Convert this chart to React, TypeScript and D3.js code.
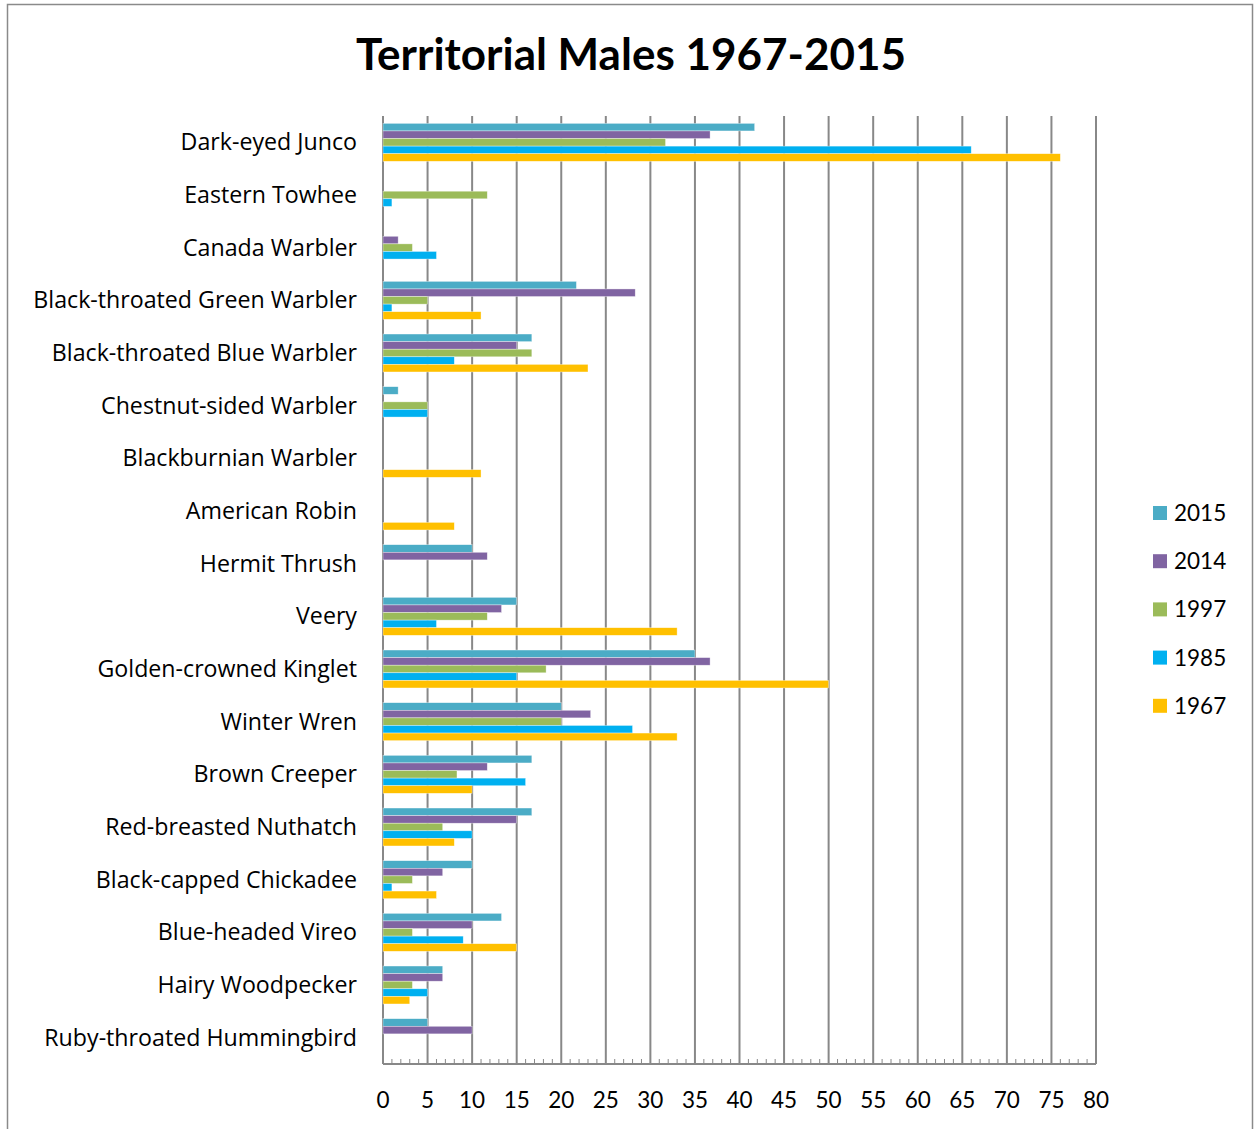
import React from "react";
import * as d3 from "d3";

const categories = [
  "Dark-eyed Junco",
  "Eastern Towhee",
  "Canada Warbler",
  "Black-throated Green Warbler",
  "Black-throated Blue Warbler",
  "Chestnut-sided Warbler",
  "Blackburnian Warbler",
  "American Robin",
  "Hermit Thrush",
  "Veery",
  "Golden-crowned Kinglet",
  "Winter Wren",
  "Brown Creeper",
  "Red-breasted Nuthatch",
  "Black-capped Chickadee",
  "Blue-headed Vireo",
  "Hairy Woodpecker",
  "Ruby-throated Hummingbird",
];

const seriesNames = ["2015", "2014", "1997", "1985", "1967"];
const seriesColors = ["#4BACC6", "#8064A2", "#9BBB59", "#00B0F0", "#FFC000"];

const v2015 = [41.7, 0, 0, 21.7, 16.7, 1.7, 0, 0, 10, 15, 35, 20, 16.7, 16.7, 10, 13.3, 6.7, 5];
const v2014 = [36.7, 0, 1.7, 28.3, 15, 0, 0, 0, 11.7, 13.3, 36.7, 23.3, 11.7, 15, 6.7, 10, 6.7, 10];
const v1997 = [31.7, 11.7, 3.3, 5, 16.7, 5, 0, 0, 0, 11.7, 18.3, 20, 8.3, 6.7, 3.3, 3.3, 3.3, 0];
const v1985 = [66, 1, 6, 1, 8, 5, 0, 0, 0, 6, 15, 28, 16, 10, 1, 9, 5, 0];
const v1967 = [76, 0, 0, 11, 23, 0, 11, 8, 0, 33, 50, 33, 10, 8, 6, 15, 3, 0];

const seriesValues = [v2015, v2014, v1997, v1985, v1967];
const xTicks = d3.range(0, 81, 5);
const xMinor = d3.range(0, 81, 1).filter((d) => d % 5 !== 0);

const title = "Territorial Males 1967-2015";

export default function App() {
  const W = 1255;
  const H = 1129;
  const left = 383;
  const right = 1096;
  const top = 116;
  const bottom = 1064;
  const font = "Lato, 'Open Sans', sans-serif";
  const catFont = "'Open Sans', Lato, sans-serif";

  const x = d3.scaleLinear().domain([0, 80]).range([left, right]);
  const y = d3.scaleBand<string>().domain(categories).range([top, bottom]).padding(0);
  const ys = d3
    .scaleBand<string>()
    .domain(seriesNames)
    .range([0, y.step()])
    .paddingInner(0)
    .paddingOuter(0.97);

  const grid = "#888888";

  return (
    <svg
      width={W}
      height={H}
      style={{ position: "absolute", left: 0, top: 0, background: "#fff" }}
      fontFamily={font}
    >
      <rect x={0} y={0} width={W} height={H} fill="#fff" />
      {/* chart border */}
      <rect x={7.5} y={4.5} width={1245} height={1140} fill="none" stroke="#8a8a8a" strokeWidth={1.5} />

      <text x={631} y={70} textAnchor="middle" fontSize={44} fontWeight={700} fill="#000">
        {title}
      </text>

      {/* gridlines */}
      {xTicks.map((t) => (
        <line key={"g" + t} x1={x(t)} x2={x(t)} y1={top} y2={bottom} stroke={grid} strokeWidth={2} />
      ))}

      {/* bars */}
      {seriesNames.map((s, si) => (
        <g key={s}>
          {categories.map((c, ci) => {
            const v = seriesValues[si][ci];
            if (!v) return null;
            const by = (y(c) as number) + (ys(s) as number);
            return (
              <rect
                key={c}
                x={x(0)}
                y={by}
                width={x(v) - x(0)}
                height={ys.bandwidth()}
                fill={seriesColors[si]}
                stroke="#ffffff"
                strokeOpacity={0.6}
                strokeWidth={0.6}
              />
            );
          })}
        </g>
      ))}

      {/* axis line and ticks */}
      <line x1={left} x2={right} y1={bottom} y2={bottom} stroke={grid} strokeWidth={2} />
      {xMinor.map((t) => (
        <line key={"m" + t} x1={x(t)} x2={x(t)} y1={bottom} y2={bottom - 5} stroke={grid} strokeWidth={1} />
      ))}
      {xTicks.map((t) => (
        <text key={"t" + t} x={x(t)} y={1108} textAnchor="middle" fontSize={22.5} fill="#000">
          {t}
        </text>
      ))}

      {/* category labels */}
      {categories.map((c) => (
        <text
          key={"c" + c}
          x={357}
          y={(y(c) as number) + y.bandwidth() / 2 + 8}
          textAnchor="end"
          fontSize={23.2}
          fontFamily={catFont}
          fill="#000"
        >
          {c}
        </text>
      ))}

      {/* legend */}
      {seriesNames.map((s, i) => (
        <g key={"l" + s} transform={`translate(1153, ${513 + i * 48.2})`}>
          <rect x={0} y={-7} width={14} height={14} fill={seriesColors[i]} />
          <text x={21} y={8} fontSize={22.5} fill="#000">
            {s}
          </text>
        </g>
      ))}
    </svg>
  );
}
